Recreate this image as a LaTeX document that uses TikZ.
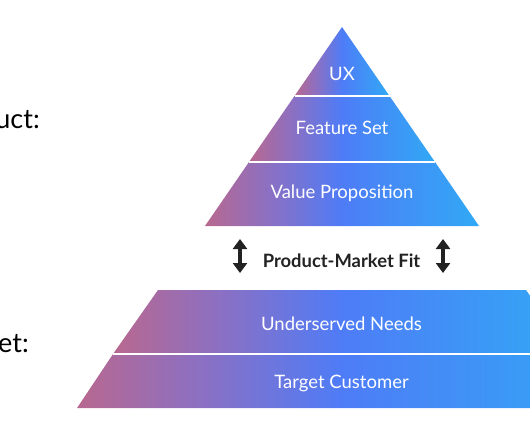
\documentclass[tikz,border=0pt]{standalone}
\usepackage{fontspec}
\setmainfont{Lato}
\usetikzlibrary{arrows.meta}
\definecolor{rose}{HTML}{B8688F}
\definecolor{plum}{HTML}{8A70C4}
\definecolor{azure}{HTML}{4E7CF7}
\definecolor{sky}{HTML}{31A9F5}
\definecolor{ink}{HTML}{222222}
\pgfdeclarehorizontalshading{pyramid}{100bp}{color(0bp)=(rose); color(25bp)=(rose);
 color(37bp)=(plum); color(50bp)=(azure); color(75bp)=(sky); color(100bp)=(sky)}

\begin{document}
\begin{tikzpicture}[x=1pt,y=-1pt,
band/.style ={shading=pyramid},
sep/.style ={draw=white, line width=1.6pt},
lbl/.style ={text=white, font=\fontsize{18.5}{20}\selectfont},
side/.style ={text=black, anchor=base east, inner sep=0pt, font=\fontsize{27}{30}\selectfont},
updown/.style ={{Triangle[width=14pt,length=10pt]}-{Triangle[width=14pt,length=10pt]},
 draw=ink, line width=4pt}]
\clip (0,0) rectangle (530,442);
\useasboundingbox (0,0) rectangle (530,442);
\coordinate (apex) at (342,27);
\coordinate (t1l) at (294.5,96); \coordinate (t1r) at (389.5,96);
\coordinate (t2l) at (249,162); \coordinate (t2r) at (435,162);
\coordinate (t3l) at (205,226); \coordinate (t3r) at (479,226);
\coordinate (b0l) at (158,290); \coordinate (b0r) at (526,290);
\coordinate (b1l) at (113,354); \coordinate (b1r) at (571,354);
\coordinate (b2l) at (77,408); \coordinate (b2r) at (607,408);
\path[band] (apex) -- (t1r) -- (t1l) -- cycle;
\path[band] (t1l) -- (t1r) -- (t2r) -- (t2l) -- cycle;
\path[band] (t2l) -- (t2r) -- (t3r) -- (t3l) -- cycle;
\path[band] (b0l) -- (b0r) -- (b1r) -- (b1l) -- cycle;
\path[band] (b1l) -- (b1r) -- (b2r) -- (b2l) -- cycle;
\draw[sep] (t1l) -- (t1r);
\draw[sep] (t2l) -- (t2r);
\draw[sep] (b1l) -- (b1r);
\node[lbl] (ux) at (342,74) {UX};
\node[lbl] (feat) at (342,128) {Feature Set};
\node[lbl] (value) at (342,193) {Value Proposition};
\node[lbl] (needs) at (341.5,324) {Underserved Needs};
\node[lbl] (cust) at (341.5,383) {Target Customer};
\node[text=ink, font=\fontsize{18.4}{20}\selectfont\bfseries] (pmf) at (341.5,261) {Product-Market Fit};
\node[side] (prod) at (40,128) {uct:};
\node[side] (mkt) at (29,352) {et:};
\coordinate (lt) at (240,239); \coordinate (lb) at (240,273);
\coordinate (rt) at (443,239); \coordinate (rb) at (443,273);
\draw[updown] (lt) -- (lb);
\draw[updown] (rt) -- (rb);
\end{tikzpicture}
\end{document}
